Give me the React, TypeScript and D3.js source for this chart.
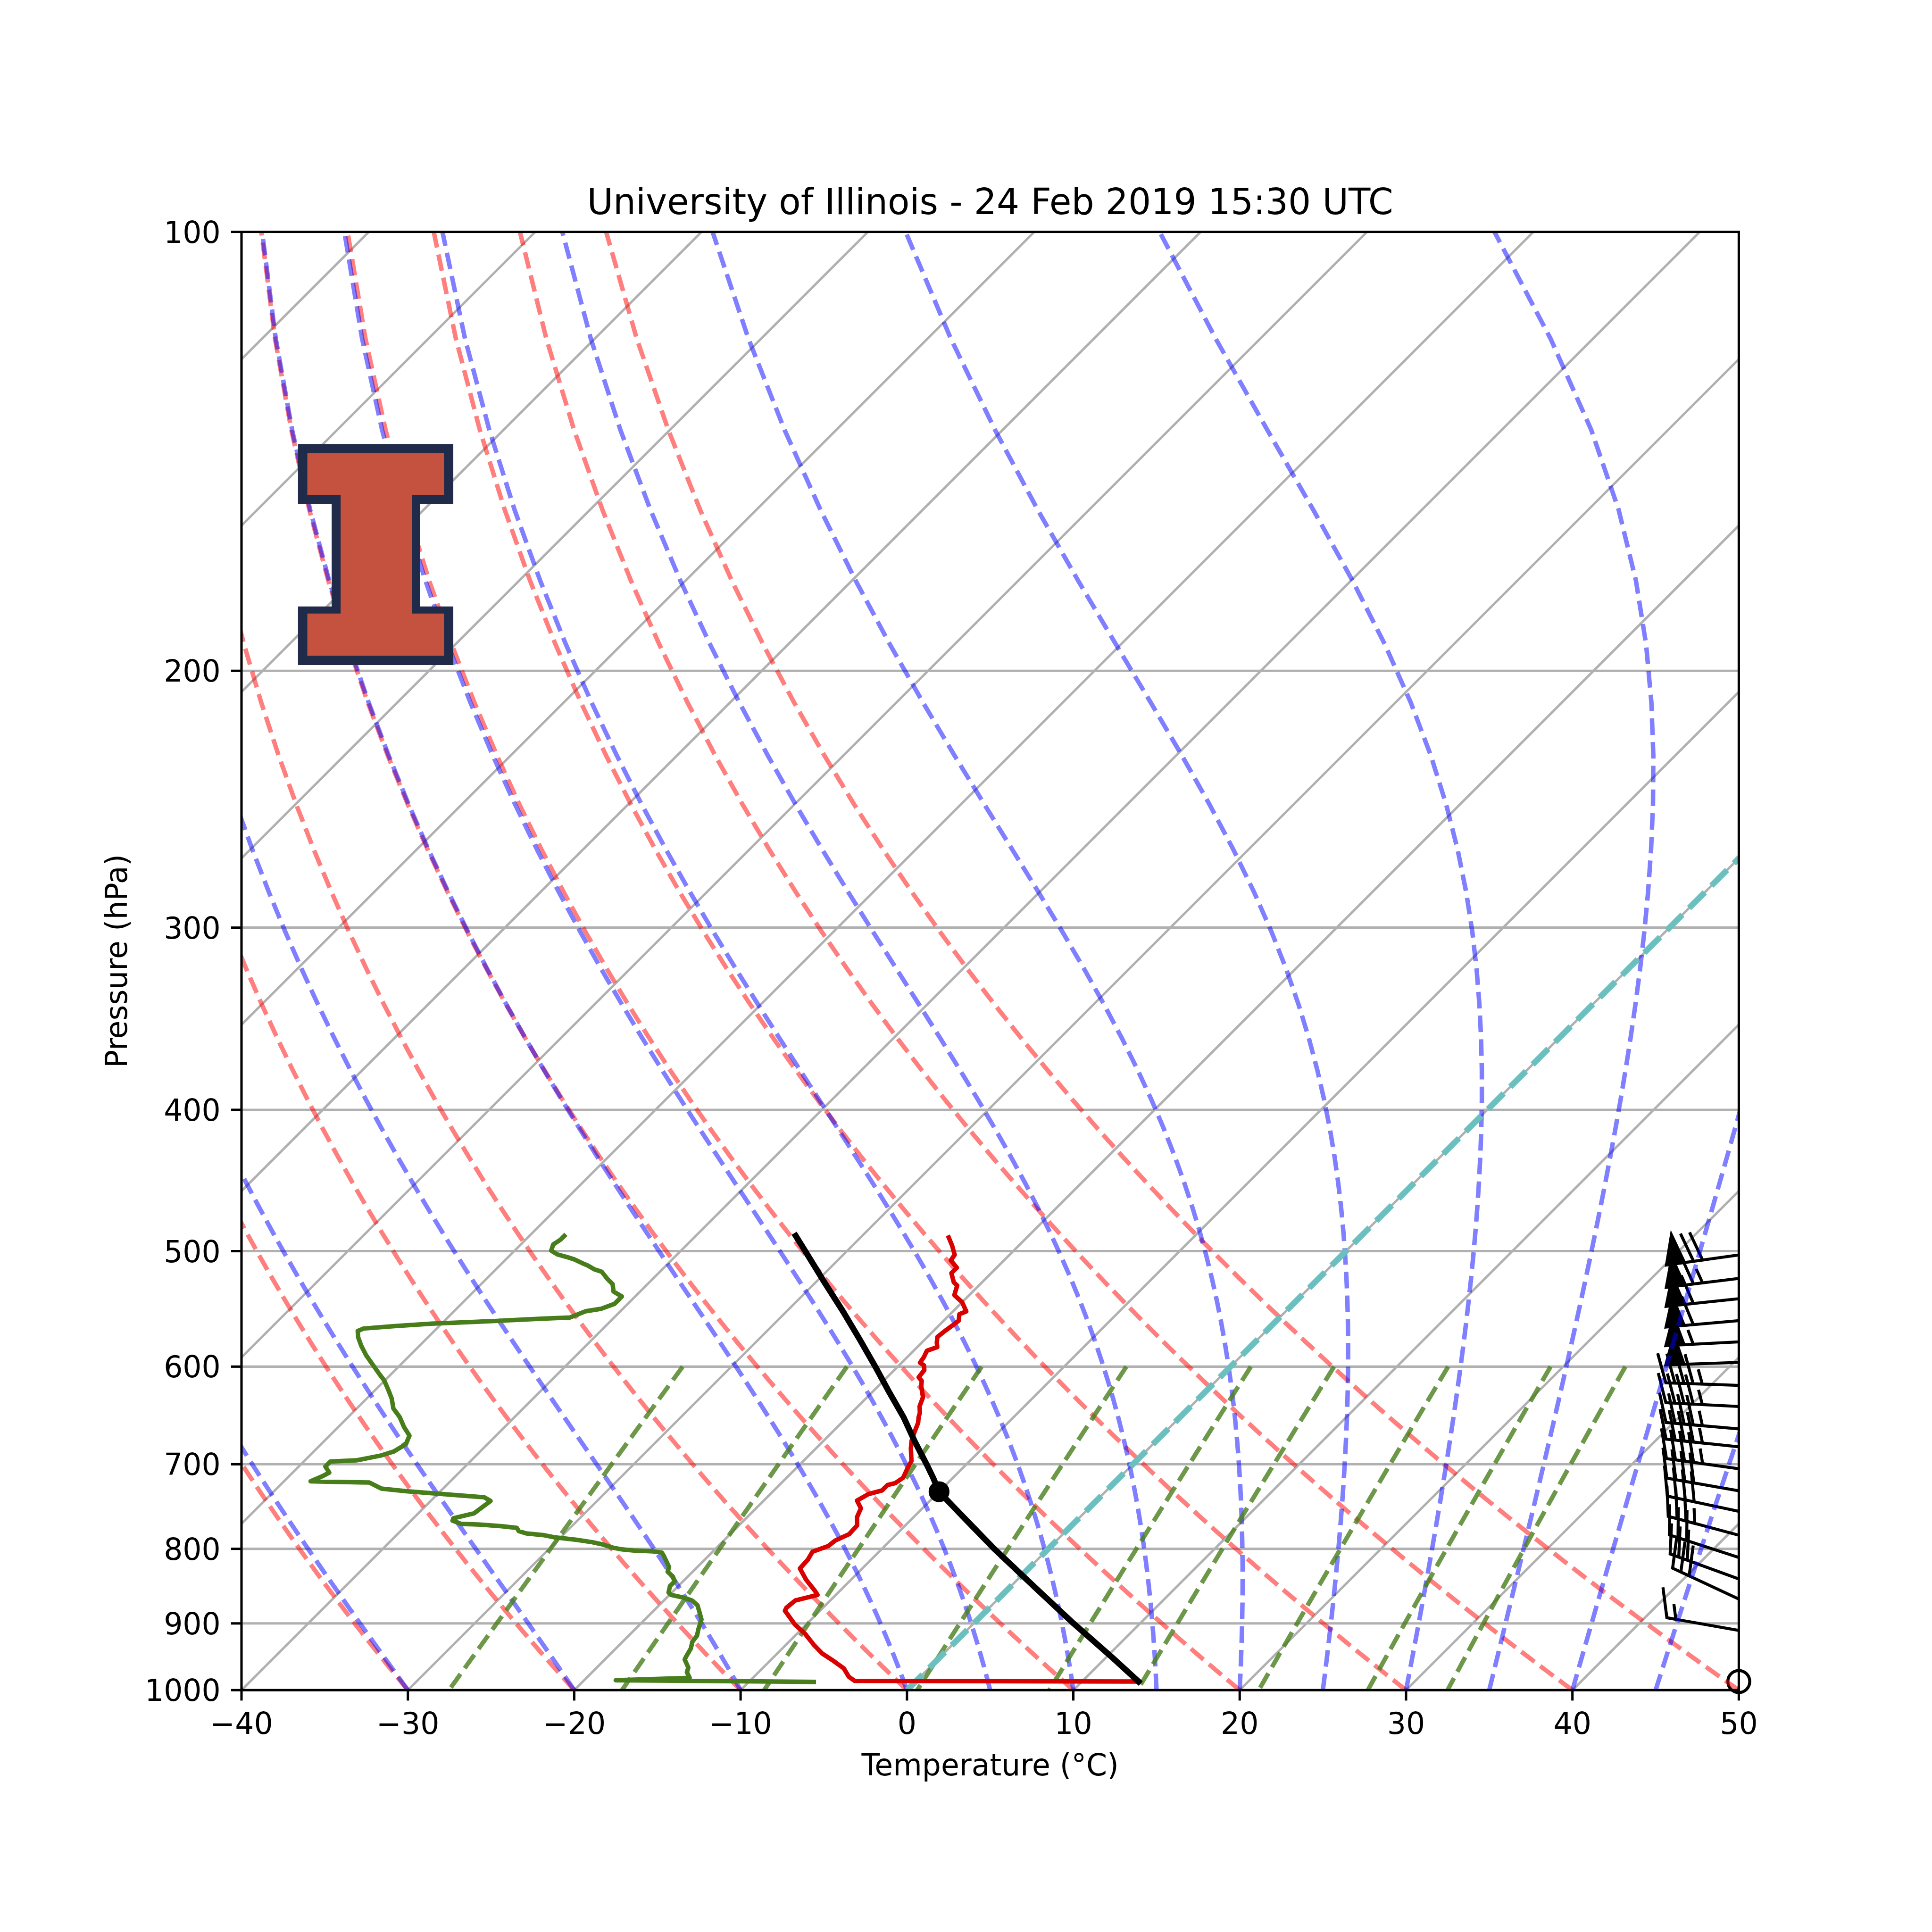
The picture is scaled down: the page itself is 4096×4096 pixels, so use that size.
import React from 'react';
import * as d3 from 'd3';

// ---------------- data ----------------
const titleText = 'University of Illinois - 24 Feb 2019 15:30 UTC';
const xLabelText = 'Temperature (°C)';
const yLabelText = 'Pressure (hPa)';
const pressureTicks = [1000, 900, 800, 700, 600, 500, 400, 300, 200, 100];
const temperatureTicks = [-40, -30, -20, -10, 0, 10, 20, 30, 40, 50];
const isothermValues = [-130, -120, -110, -100, -90, -80, -70, -60, -50, -40, -30, -20, -10, 0, 10, 20, 30, 40, 50];
const dryAdiabatT0 = [-40, -30, -20, -10, 0, 10, 20, 30, 40, 50];
const moistAdiabatT0 = [-40, -30, -20, -10, 0, 5, 10, 15, 20, 25, 30, 35, 40, 45, 50];
const mixingRatioValues = [0.0004, 0.001, 0.002, 0.004, 0.007, 0.01, 0.016, 0.024, 0.032];

// temperature profile (hPa, degC)
const tempP = [986.5, 985.5, 979.1, 966.3, 953.6, 943.8, 930.6, 915.0, 901.3, 887.6, 882.3, 878.0, 868.0, 860.4, 854.9, 840.0, 825.2, 813.9, 803.7, 796.6, 789.6, 781.7, 770.9, 761.0, 750.4, 741.3, 733.8, 729.6, 723.3, 721.2, 715.0, 704.6, 696.5, 682.6, 674.8, 667.0, 661.3, 655.6, 650.0, 645.3, 638.8, 629.6, 619.0, 613.7, 610.2, 603.2, 598.8, 596.3, 591.1, 585.2, 581.8, 577.6, 572.6, 566.9, 562.8, 557.9, 552.3, 549.9, 542.0, 535.9, 527.9, 525.2, 517.6, 513.2, 507.3, 502.9, 495.7, 489.3];
const tempC = [13.4, -3.7, -4.3, -5.1, -6.3, -7.3, -8.35, -9.5, -10.7, -11.7, -12.1, -12.2, -12.1, -11.1, -11.5, -12.7, -13.75, -13.8, -14.0, -13.4, -13.3, -12.85, -12.9, -13.4, -13.7, -14.4, -14.1, -13.5, -13.5, -13.15, -13.0, -13.3, -13.5, -14.3, -14.7, -15.0, -15.2, -15.4, -15.7, -15.9, -16.3, -16.65, -17.4, -17.7, -18.1, -18.2, -18.5, -18.9, -19.0, -19.2, -18.8, -19.1, -19.4, -19.3, -19.2, -19.1, -19.45, -19.2, -20.0, -20.9, -21.3, -21.7, -22.4, -22.4, -23.2, -23.3, -24.0, -24.7];

// dewpoint profile (hPa, degC)
const dewP = [987.0, 984.5, 980.8, 972.2, 965.0, 952.8, 948.0, 936.1, 926.8, 917.4, 908.3, 894.4, 883.4, 874.5, 868.0, 863.6, 860.4, 857.1, 848.5, 842.1, 835.8, 829.5, 823.3, 816.0, 808.8, 804.8, 803.2, 802.2, 800.7, 798.7, 794.7, 791.7, 788.7, 785.8, 782.8, 780.8, 777.9, 774.0, 772.0, 770.1, 769.1, 765.2, 762.3, 756.4, 741.8, 737.5, 730.4, 727.5, 720.5, 719.1, 713.5, 709.3, 702.5, 697.0, 695.7, 693.0, 690.3, 686.2, 678.3, 669.1, 660.0, 649.8, 641.0, 631.0, 622.7, 613.1, 607.2, 589.7, 580.6, 572.8, 567.2, 565.0, 562.8, 560.6, 558.4, 556.3, 555.2, 549.8, 547.6, 543.4, 537.1, 532.9, 526.7, 522.6, 516.5, 514.5, 511.5, 509.5, 506.5, 504.6, 502.6, 499.6, 494.8, 491.0, 488.1];
const dewC = [-6.1, -18.1, -13.8, -14.3, -14.5, -15.2, -15.3, -15.5, -15.8, -15.9, -16.2, -16.6, -17.2, -17.7, -18.3, -19.1, -19.9, -20.2, -20.5, -20.5, -20.9, -21.5, -21.7, -22.2, -22.7, -23.0, -23.6, -24.8, -25.6, -26.2, -27.0, -27.8, -28.9, -30.3, -31.2, -32.3, -32.9, -33.2, -34.2, -35.5, -36.8, -37.5, -37.6, -36.65, -36.4, -37.0, -42.05, -43.7, -44.8, -48.4, -48.0, -47.8, -48.4, -48.4, -46.9, -46.3, -45.7, -45.2, -44.9, -45.2, -46.05, -46.9, -47.8, -48.5, -49.2, -50.05, -50.7, -52.6, -53.5, -54.2, -54.6, -54.4, -52.7, -50.6, -47.1, -44.3, -42.65, -42.1, -41.3, -40.8, -40.8, -41.6, -42.1, -42.7, -43.5, -44.1, -44.7, -45.2, -45.9, -46.5, -47.2, -47.8, -48.05, -47.9, -47.9];

// parcel profile (hPa, degC) and LCL
const parcelP = [986.5, 950, 900, 850, 800, 760, 731, 715, 700, 675, 650, 625, 600, 575, 550, 525, 500, 488];
const parcelC = [13.4, 10.4, 6.0, 1.5, -3.25, -7.1, -10.0, -11.2, -12.4, -14.5, -16.6, -18.95, -21.35, -23.9, -26.6, -29.5, -32.5, -34.0];
const lclP = 731;
const lclC = -10.0;

// wind barbs (hPa, knots, direction from in degrees)
const barbP = [503, 522, 539, 558, 577, 596, 618, 639, 662, 681, 705, 730, 754, 783, 811, 839, 866, 910, 986.5];
const barbSpeed = [70, 65, 60, 60, 55, 50, 45, 45, 45, 45, 45, 40, 40, 35, 30, 30, 30, 15, 0];
const barbDir = [262, 263, 264, 265, 267, 268, 272, 273, 275, 276, 278, 280, 282, 285, 288, 290, 295, 280, 0];

// ---------------- layout (reference pixel units, drawn scaled) ----------------
const REF = 5400;
const OUT = 4096;
const PL = 675, PR = 4860, PTOP = 648, PB = 4724;
const PT = 600 / 72; // one point in reference pixels

// thermodynamics for background lines
const Rd = 287.04749, Cp = 1005, Lv = 2.501e6, EPS = 0.62196;
const KAPPA = Rd / Cp;
const satVap = (tK: number) => 6.112 * Math.exp(17.67 * (tK - 273.15) / (tK - 29.65));
const satMix = (p: number, tK: number) => { const e = satVap(tK); return EPS * e / (p - e); };
const moistRate = (p: number, tK: number) => {
  const rs = satMix(p, tK);
  return (Rd * tK + Lv * rs) / (Cp + (Lv * Lv * rs * EPS) / (Rd * tK * tK)) / p;
};
const linspace = (a: number, b: number, n: number) => Array.from({ length: n }, (_, i) => a + (b - a) * i / (n - 1));

function moistProfile(t0C: number, ps: number[]) {
  let t = t0C + 273.15;
  let p = ps[0];
  const out = [t - 273.15];
  for (let k = 1; k < ps.length; k++) {
    const target = ps[k];
    const nSteps = Math.max(4, Math.ceil(Math.abs(target - p) / 0.5));
    const h = (target - p) / nSteps;
    for (let s = 0; s < nSteps; s++) {
      const k1 = moistRate(p, t);
      const k2 = moistRate(p + h / 2, t + h / 2 * k1);
      const k3 = moistRate(p + h / 2, t + h / 2 * k2);
      const k4 = moistRate(p + h, t + h * k3);
      t += h / 6 * (k1 + 2 * k2 + 2 * k3 + k4);
      p += h;
    }
    out.push(t - 273.15);
  }
  return out;
}

function mixingDewpoint(p: number, w: number) {
  const e = p * w / (EPS + w);
  const v = Math.log(e / 6.112);
  return 243.5 * v / (17.67 - v);
}

function barbPath(cx: number, cy: number, speed: number, dir: number) {
  const unit = 3.5 * PT;
  const L = 7 * unit, sp = 0.125 * 7 * unit, h = 0.4 * 7 * unit, w = 0.25 * 7 * unit;
  const mag = 5 * Math.round(speed / 5);
  const nflags = Math.floor(mag / 50);
  const rem = mag - 50 * nflags;
  const nbarbs = Math.floor(rem / 10);
  const half = rem - 10 * nbarbs >= 5;
  const rad = dir * Math.PI / 180;
  const d = [Math.sin(rad), -Math.cos(rad)];
  const n = [Math.cos(rad), Math.sin(rad)];
  const P = (a: number, b: number) => [cx + a * d[0] + b * n[0], cy + a * d[1] + b * n[1]];
  const verts: number[][] = [[0, 0]];
  let off = L;
  for (let i = 0; i < nflags; i++) {
    if (off !== L) off += sp / 2;
    verts.push([off, 0], [off - w / 2, h], [off - w, 0]);
    off -= w + sp;
  }
  for (let i = 0; i < nbarbs; i++) {
    verts.push([off, 0], [off + w / 2, h], [off, 0]);
    off -= sp;
  }
  if (half) {
    if (off === L) { verts.push([off, 0]); off -= 1.5 * sp; }
    verts.push([off, 0], [off + w / 4, h / 2], [off, 0]);
  }
  return 'M' + verts.map(v => P(v[0], v[1]).map(q => q.toFixed(2)).join(',')).join('L');
}

export default function App() {
  const x = d3.scaleLinear().domain([-40, 50]).range([PL, PR]);
  const y = d3.scaleLog().domain([1000, 100]).range([PB, PTOP]);
  const sx = (T: number, p: number) => x(T) + (PB - y(p));
  const path = (ps: number[], ts: number[]) =>
    d3.line<number>().x((_, i) => sx(ts[i], ps[i])).y((_, i) => y(ps[i]))(ps) || '';

  const fullP = linspace(1000, 100, 50);
  const mixP = linspace(600, 1000, 50);

  const dryPaths = dryAdiabatT0.map(t0 => path(fullP, fullP.map(p => (t0 + 273.15) * Math.pow(p / 1000, KAPPA) - 273.15)));
  const moistPaths = moistAdiabatT0.map(t0 => path(fullP, moistProfile(t0, fullP)));
  const mixPaths = mixingRatioValues.map(w => path(mixP, mixP.map(p => mixingDewpoint(p, w))));
  const isoPaths = isothermValues.map(t => path([1000, 100], [t, t]));

  const font = 'DejaVu Sans, Liberation Sans, sans-serif';
  const fs = 10 * PT;
  const tickLen = 3.5 * PT;
  const cx = (PL + PR) / 2;
  const cy = (PTOP + PB) / 2;

  const dashed15 = `${3.7 * 1.5 * PT} ${1.6 * 1.5 * PT}`;
  const dashed2 = `${3.7 * 2 * PT} ${1.6 * 2 * PT}`;

  // logo geometry (reference px)
  const logoOuter = [[833, 1241], [1267, 1241], [1267, 1408], [1174, 1408], [1174, 1695], [1267, 1695], [1267, 1859], [833, 1859], [833, 1695], [927, 1695], [927, 1408], [833, 1408]];
  const logoInner = [[859, 1267], [1241, 1267], [1241, 1384], [1151, 1384], [1151, 1715], [1241, 1715], [1241, 1833], [859, 1833], [859, 1715], [952, 1715], [952, 1384], [859, 1384]];
  const poly = (pts: number[][]) => 'M' + pts.map(p => p.join(',')).join('L') + 'Z';

  return (
    <svg width={OUT} height={OUT} viewBox={`0 0 ${REF} ${REF}`} style={{ position: 'absolute', left: 0, top: 0, background: '#ffffff' }} xmlns="http://www.w3.org/2000/svg">
      <defs>
        <clipPath id="plotClip">
          <rect x={PL} y={PTOP} width={PR - PL} height={PB - PTOP} />
        </clipPath>
      </defs>
      <rect x={0} y={0} width={REF} height={REF} fill="#ffffff" />

      {/* grid */}
      <g clipPath="url(#plotClip)" stroke="#b0b0b0" strokeWidth={0.8 * PT} fill="none">
        {pressureTicks.map(p => <line key={'hp' + p} x1={PL} x2={PR} y1={y(p)} y2={y(p)} />)}
        {isoPaths.map((d, i) => <path key={'iso' + i} d={d} />)}
      </g>

      {/* wind barbs */}
      <g stroke="#000" strokeWidth={1 * PT} fill="#000" strokeLinejoin="miter">
        {barbP.map((p, i) => barbSpeed[i] < 2.5
          ? <circle key={'b' + i} cx={PR} cy={y(p)} r={1.05 * 3.5 * PT} fill="none" />
          : <path key={'b' + i} d={barbPath(PR, y(p), barbSpeed[i], barbDir[i])} />)}
      </g>

      {/* background thermodynamic lines */}
      <g clipPath="url(#plotClip)" fill="none" strokeWidth={1.5 * PT} strokeDasharray={dashed15}>
        <g stroke="#ff0000" strokeOpacity={0.5}>
          {dryPaths.map((d, i) => <path key={'dry' + i} d={d} />)}
        </g>
        <g stroke="#0000ff" strokeOpacity={0.5}>
          {moistPaths.map((d, i) => <path key={'moist' + i} d={d} />)}
        </g>
        <g stroke="#487d1b" strokeOpacity={0.8}>
          {mixPaths.map((d, i) => <path key={'mix' + i} d={d} />)}
        </g>
      </g>

      {/* 0 degree isotherm */}
      <g clipPath="url(#plotClip)">
        <path d={path([1000, 100], [0, 0])} stroke="#6cbfbf" strokeWidth={2 * PT} strokeDasharray={dashed2} fill="none" />
      </g>

      {/* profiles */}
      <g clipPath="url(#plotClip)" fill="none" strokeLinejoin="round">
        <path d={path(tempP, tempC)} stroke="#d90000" strokeWidth={1.5 * PT} strokeLinecap="square" />
        <path d={path(dewP, dewC)} stroke="#487d1b" strokeWidth={1.5 * PT} strokeLinecap="square" />
        <path d={path(parcelP, parcelC)} stroke="#000000" strokeWidth={2 * PT} strokeLinecap="square" />
        <circle cx={sx(lclC, lclP)} cy={y(lclP)} r={3 * PT} fill="#000" stroke="#000" strokeWidth={1 * PT} />
      </g>

      {/* spines */}
      <rect x={PL} y={PTOP} width={PR - PL} height={PB - PTOP} fill="none" stroke="#000" strokeWidth={0.8 * PT} />

      {/* ticks */}
      <g stroke="#000" strokeWidth={0.8 * PT}>
        {temperatureTicks.map(t => <line key={'xt' + t} x1={x(t)} x2={x(t)} y1={PB} y2={PB + tickLen} />)}
        {pressureTicks.map(p => <line key={'yt' + p} x1={PL - tickLen} x2={PL} y1={y(p)} y2={y(p)} />)}
      </g>
      <g fontFamily={font} fontSize={fs} fill="#000">
        {temperatureTicks.map(t => (
          <text key={'xl' + t} x={x(t)} y={PB + 2 * tickLen + 64} textAnchor="middle">
            {t < 0 ? '\u2212' + Math.abs(t) : String(t)}
          </text>
        ))}
        {pressureTicks.map(p => (
          <text key={'yl' + p} x={PL - 2 * tickLen} y={y(p) + 30.5} textAnchor="end">{String(p)}</text>
        ))}
        <text x={cx} y={4962} textAnchor="middle">{xLabelText}</text>
        <text transform={`translate(355,${cy}) rotate(-90)`} textAnchor="middle">{yLabelText}</text>
        <text x={cx} y={598} textAnchor="middle" fontSize={12 * PT}>{titleText}</text>
      </g>

      {/* logo */}
      <g>
        <path d={poly(logoOuter)} fill="#1f2b49" />
        <path d={poly(logoInner)} fill="#c4523e" />
      </g>
    </svg>
  );
}
